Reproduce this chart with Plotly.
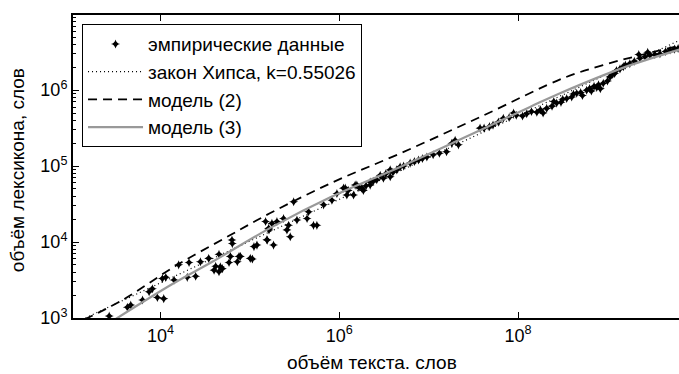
import numpy as np
import plotly.graph_objects as go

# ---- data (log10 values) ----
emp_lx = [3.427, 3.63, 3.668, 3.80, 3.873, 3.91, 3.966, 4.037, 4.022, 4.06, 4.153, 4.204, 4.30, 4.32,
          4.394, 4.447, 4.54, 4.6, 4.618, 4.655, 4.655, 4.67, 4.692, 4.767, 4.782, 4.8, 4.804, 4.86,
          4.879, 4.894, 5.005, 5.028, 5.046, 5.08, 5.176, 5.19, 5.195, 5.21, 5.214, 5.247, 5.265,
          5.303, 5.377, 5.415, 5.433, 5.452, 5.49, 5.527, 5.64, 5.657, 5.712, 5.75, 5.825, 5.918,
          5.974, 6.048, 6.067, 6.085, 6.1, 6.16, 6.178, 6.197, 6.22, 6.253, 6.27, 6.3, 6.346, 6.346,
          6.38, 6.42, 6.458, 6.494, 6.52, 6.57, 6.57, 6.6, 6.644, 6.681, 6.72, 6.793, 6.84, 6.886,
          6.93, 6.98, 7.05, 7.12, 7.2, 7.259, 7.296, 7.333, 7.575, 7.62, 7.68, 7.72, 7.78, 7.835,
          7.9, 7.95, 7.98, 8.05, 8.097, 8.15, 8.21, 8.25, 8.28, 8.32, 8.38, 8.4, 8.432, 8.48, 8.5,
          8.544, 8.6, 8.62, 8.656, 8.7, 8.72, 8.767, 8.8, 8.82, 8.85, 8.88, 8.9, 8.92, 8.953, 9.0,
          9.028, 9.05, 9.08, 9.1, 9.14, 9.177, 9.2, 9.25, 9.3, 9.35, 9.363, 9.42, 9.45, 9.475,
          9.53, 9.587, 9.65, 9.7, 9.75, 9.79]
emp_ly = [3.026, 3.14, 3.17, 3.237, 3.346, 3.385, 3.27, 3.255, 3.52, 3.535, 3.5, 3.70, 3.535, 3.73,
          3.55, 3.74, 3.785, 3.63, 3.68, 3.84, 3.61, 3.675, 3.65, 3.73, 3.81, 4.026, 3.98, 3.74,
          3.81, 3.81, 3.785, 3.776, 3.94, 3.96, 4.27, 4.03, 4.026, 4.18, 4.16, 4.246, 3.96,
          4.27, 4.31, 4.16, 4.22, 4.07, 4.53, 4.29, 4.31, 4.40, 4.22, 4.22, 4.49, 4.55,
          4.64, 4.71, 4.71, 4.62, 4.68, 4.62, 4.75, 4.75, 4.72, 4.71, 4.68, 4.74, 4.75, 4.79,
          4.80, 4.82, 4.88, 4.84, 4.90, 4.86, 4.95, 4.92, 4.95, 4.99, 5.00, 5.04, 5.06, 5.08,
          5.10, 5.12, 5.15, 5.17, 5.19, 5.30, 5.34, 5.28, 5.50, 5.50, 5.52, 5.54, 5.58, 5.63,
          5.64, 5.70, 5.67, 5.66, 5.69, 5.72, 5.71, 5.74, 5.70, 5.76, 5.79, 5.85, 5.83, 5.84, 5.88,
          5.89, 5.91, 5.95, 5.96, 5.97, 5.93, 6.00, 6.02, 5.99, 6.05, 6.035, 6.07, 6.02, 6.09, 6.12,
          6.175, 6.20, 6.22, 6.26, 6.28, 6.31, 6.33, 6.35, 6.38, 6.47, 6.42, 6.44, 6.50, 6.46,
          6.47, 6.48, 6.51, 6.53, 6.54, 6.55]

heaps_lx = [3.0, 9.85]
heaps_ly = [2.912, 6.681]
heaps_k = "0.55026"

m2_lx = [3.15, 3.576, 4.167, 4.782, 5.229, 5.933, 6.681, 7.6, 8.505, 8.95, 9.363, 9.85]
m2_ly = [2.98, 3.237, 3.684, 4.092, 4.382, 4.79, 5.167, 5.66, 6.158, 6.33, 6.46, 6.60]

m3_lx = [3.45, 4.134, 4.58, 5.25, 5.9, 6.681, 7.314, 8.134, 8.47, 9.21, 9.85]
m3_ly = [2.95, 3.447, 3.74, 4.20, 4.59, 4.99, 5.33, 5.78, 5.96, 6.31, 6.55]

x_ticks = [1e4, 1e6, 1e8]
x_ticktext = ["10<sup>4</sup>", "10<sup>6</sup>", "10<sup>8</sup>"]
y_ticks = [1e3, 1e4, 1e5, 1e6]
y_ticktext = ["10<sup>3</sup>", "10<sup>4</sup>", "10<sup>5</sup>", "10<sup>6</sup>"]
y_minor = [k * 10.0 ** n for n in range(3, 7) for k in range(2, 10)]

p = lambda a: np.power(10.0, np.array(a))

FONT = "Liberation Sans, Arial, sans-serif"

fig = go.Figure()
fig.add_trace(go.Scatter(x=p(emp_lx), y=p(emp_ly), mode="markers", name="эмпирические данные",
                         legendgroup="a",
                         marker=dict(symbol="star-diamond", size=6.5, color="black", line=dict(width=0))))
fig.add_trace(go.Scatter(x=p(heaps_lx), y=p(heaps_ly), mode="lines", legendgroup="b",
                         name="закон Хипса, k=" + heaps_k,
                         line=dict(color="black", width=1.2, dash="1px,3px")))
fig.add_trace(go.Scatter(x=p(m2_lx), y=p(m2_ly), mode="lines", name="модель (2)", legendgroup="c",
                         line=dict(color="black", width=1.8, dash="9px,6px"), line_shape="spline"))
fig.add_trace(go.Scatter(x=p(m3_lx), y=p(m3_ly), mode="lines", name="модель (3)", legendgroup="d",
                         line=dict(color="#999999", width=2.2), line_shape="spline"))

fig.update_layout(
    width=679, height=374,
    margin=dict(l=73, r=0, t=15, b=56),
    paper_bgcolor="white", plot_bgcolor="white",
    font=dict(family=FONT, size=16, color="black"),
    showlegend=True,
    legend=dict(x=0.0149, y=0.97, xanchor="left", yanchor="top",
                bgcolor="white", bordercolor="black", borderwidth=1,
                font=dict(family=FONT, size=19), traceorder="grouped", tracegroupgap=0,
                itemwidth=55),
    xaxis=dict(type="log", range=[3.022, 9.8], tickmode="array", tickvals=x_ticks,
               ticktext=x_ticktext, ticks="inside", ticklen=6, tickcolor="black",
               showline=True, linecolor="black", linewidth=2, mirror="ticks",
               showgrid=False, zeroline=False, tickfont=dict(size=18)),
    yaxis=dict(type="log", range=[3.0, 6.99], tickmode="array", tickvals=y_ticks,
               ticktext=y_ticktext, ticks="inside", ticklen=6, tickcolor="black",
               showline=True, linecolor="black", linewidth=2, mirror=False,
               showgrid=False, zeroline=False, tickfont=dict(size=18),
               minor=dict(tickmode="array", tickvals=y_minor, ticks="inside", ticklen=3,
                          tickcolor="black", showgrid=False)),
    annotations=[
        dict(text="объём текста. слов", xref="paper", yref="paper", x=0.493, y=0,
             xanchor="center", yanchor="middle", yshift=-44, showarrow=False,
             font=dict(family=FONT, size=19)),
        dict(text="объём лексикона, слов", xref="paper", yref="paper", x=0, y=0.488,
             xanchor="center", yanchor="middle", xshift=-56, textangle=-90, showarrow=False,
             font=dict(family=FONT, size=19)),
    ],
)

fig.write_html("out.html")
